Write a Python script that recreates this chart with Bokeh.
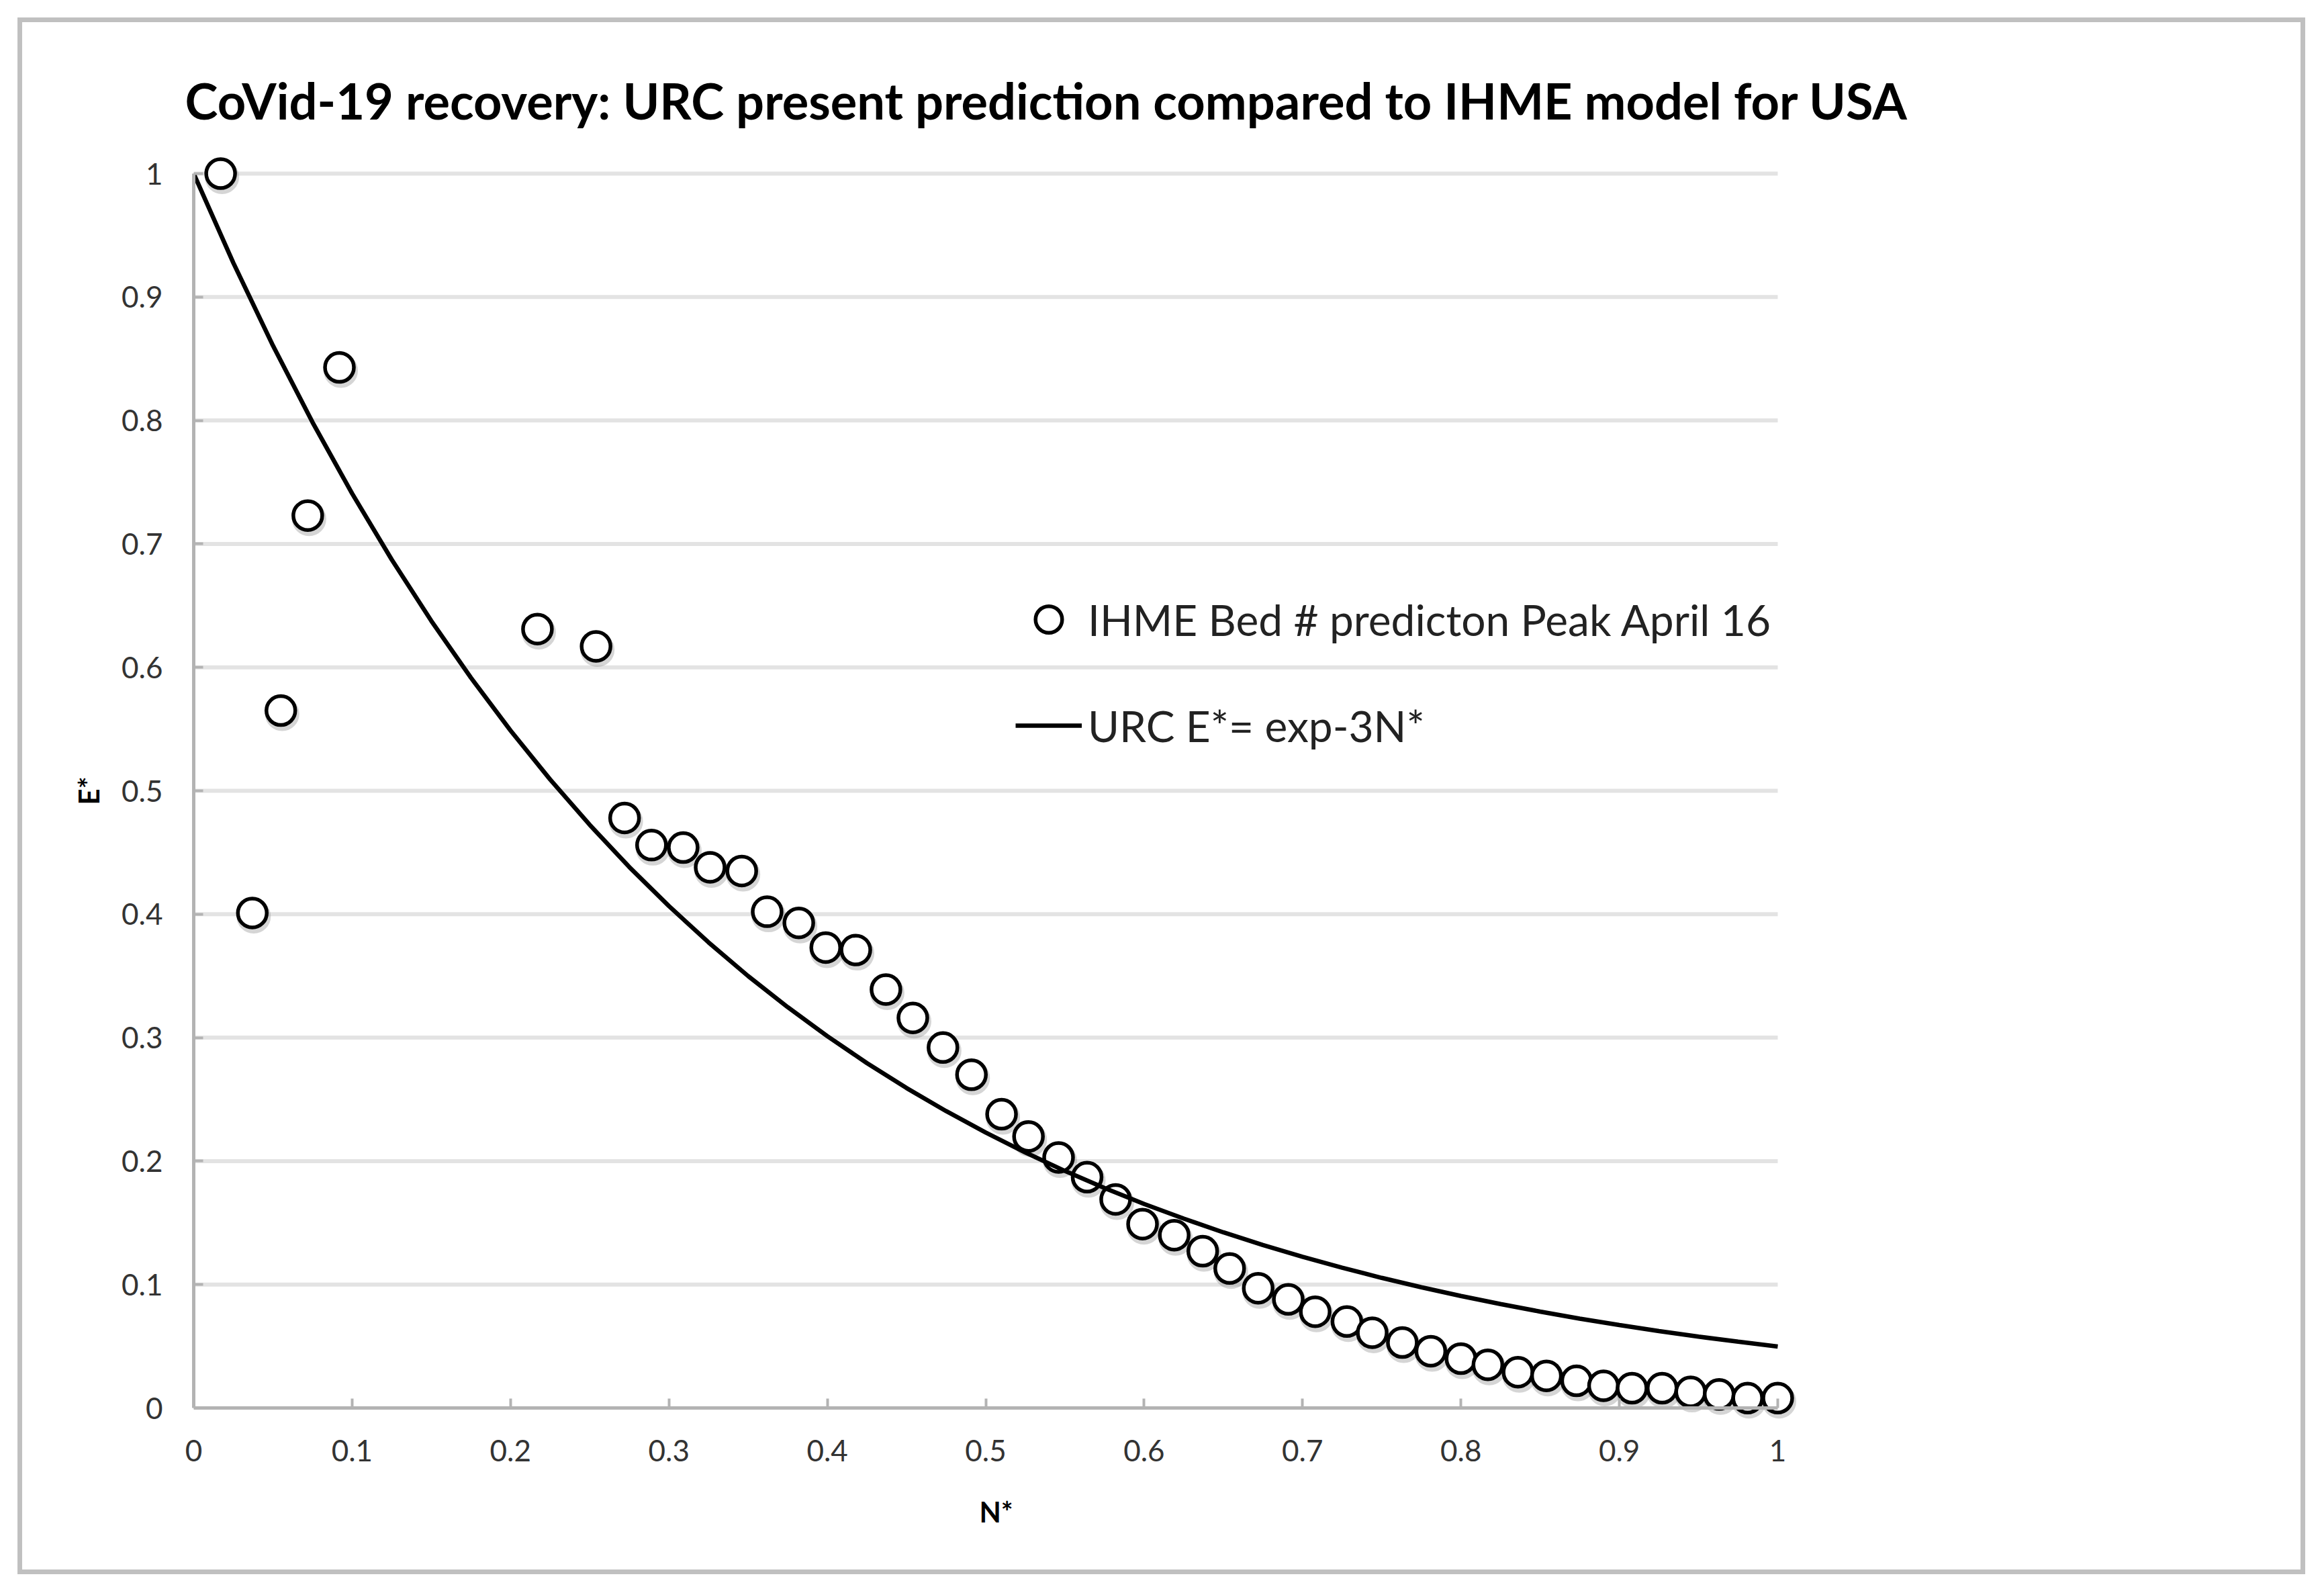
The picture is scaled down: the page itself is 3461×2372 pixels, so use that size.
from bokeh.plotting import figure
from bokeh.models import (Range1d, Legend, LegendItem, FixedTicker, NumeralTickFormatter,
                          LinearAxis, CustomLabelingPolicy)
from bokeh.embed import file_html
from bokeh.resources import INLINE
from bokeh.transform import dodge

# ---------------- data ----------------
n_star = [0.017, 0.037, 0.055, 0.072, 0.092, 0.217, 0.254, 0.272, 0.289, 0.309,
          0.326, 0.346, 0.362, 0.382, 0.399, 0.418, 0.437, 0.454, 0.473, 0.491,
          0.510, 0.527, 0.546, 0.564, 0.582, 0.599, 0.619, 0.637, 0.654, 0.672,
          0.691, 0.708, 0.728, 0.744, 0.763, 0.781, 0.800, 0.817, 0.836, 0.854,
          0.873, 0.890, 0.908, 0.927, 0.945, 0.963, 0.981, 1.000]
e_star = [1.000, 0.401, 0.565, 0.723, 0.843, 0.631, 0.617, 0.478, 0.456, 0.454,
          0.438, 0.435, 0.402, 0.393, 0.373, 0.371, 0.339, 0.316, 0.292, 0.270,
          0.238, 0.220, 0.203, 0.187, 0.169, 0.149, 0.140, 0.127, 0.113, 0.097,
          0.088, 0.078, 0.070, 0.061, 0.053, 0.046, 0.040, 0.035, 0.029, 0.026,
          0.022, 0.018, 0.016, 0.016, 0.013, 0.011, 0.008, 0.008]

urc_n = [0.0, 0.025, 0.05, 0.075, 0.1, 0.125, 0.15, 0.175, 0.2, 0.225, 0.25,
         0.275, 0.3, 0.325, 0.35, 0.375, 0.4, 0.425, 0.45, 0.475, 0.5,
         0.525, 0.55, 0.575, 0.6, 0.625, 0.65, 0.675, 0.7, 0.725, 0.75,
         0.775, 0.8, 0.825, 0.85, 0.875, 0.9, 0.925, 0.95, 0.975, 1.0]
urc_e = [1.0000, 0.9277, 0.8607, 0.7985, 0.7408, 0.6873, 0.6376, 0.5916, 0.5488, 0.5092, 0.4724,
         0.4382, 0.4066, 0.3772, 0.3499, 0.3247, 0.3012, 0.2794, 0.2592, 0.2405, 0.2231,
         0.2070, 0.1920, 0.1782, 0.1653, 0.1534, 0.1423, 0.1320, 0.1225, 0.1136, 0.1054,
         0.0978, 0.0907, 0.0842, 0.0781, 0.0724, 0.0672, 0.0623, 0.0578, 0.0537, 0.0498]

x_ticks = [0, 0.1, 0.2, 0.3, 0.4, 0.5, 0.6, 0.7, 0.8, 0.9, 1]
y_ticks = [0, 0.1, 0.2, 0.3, 0.4, 0.5, 0.6, 0.7, 0.8, 0.9, 1]

title_text = "CoVid-19 recovery: URC present prediction compared to IHME model for USA"
x_label = "N*"
y_label = "E*"
series_points = "IHME Bed # predicton Peak April 16"
series_line = "URC E*= exp-3N*"

# ---------------- layout (pixels) ----------------
W, H = 3445, 2356
x0_px, x1_px = 288, 2647      # canvas x of N*=0 and N*=1
y0_px, y1_px = 2096, 258      # canvas y of E*=0 and E*=1
pad_x, pad_y = 31, 30         # room so edge markers are not clipped
ux = (x1_px - x0_px)
uy = (y0_px - y1_px)

FONT = "Lato"
axis_color = "#b3b3b3"

p = figure(width=W, height=H, output_backend="svg", toolbar_location=None,
           x_range=Range1d(0, 1 + pad_x / ux),
           y_range=Range1d(-pad_y / uy, 1 + pad_y / uy),
           min_border_left=x0_px, min_border_right=W - (x1_px + pad_x),
           min_border_top=y1_px - pad_y, min_border_bottom=H - (y0_px + pad_y),
           background_fill_color="white", border_fill_color=None)
p.outline_line_color = None
p.xgrid.visible = False
p.ygrid.visible = False
# grey frame around the whole picture
p.styles = {"box-shadow": "inset 7px 7px 0 19px white, inset 7px 7px 0 26px #c0c0c0",
            "background-color": "white"}

# title
p.title.text = title_text
p.title.text_font = FONT
p.title.text_font_size = "74px"
p.title.text_font_style = "bold"
p.title.text_color = "black"
p.title.align = "left"
p.title.offset = -13
p.title.standoff = 69

# horizontal gridlines, limited to the axis extent
grid_levels = y_ticks[1:]
p.segment(x0=[0] * len(grid_levels), y0=grid_levels,
          x1=[1] * len(grid_levels), y1=grid_levels,
          line_color="#e3e3e3", line_width=6)


def style_axis(ax, ticks):
    ax.ticker = FixedTicker(ticks=ticks)
    ax.formatter = NumeralTickFormatter(format="0.[0]")
    ax.bounds = (0, 1)
    ax.axis_line_color = axis_color
    ax.axis_line_width = 5
    ax.major_tick_line_color = axis_color
    ax.major_tick_line_width = 4
    ax.major_tick_in = 14
    ax.major_tick_out = 0
    ax.minor_tick_line_color = None
    ax.major_label_text_font = FONT
    ax.major_label_text_font_size = "44px"
    ax.major_label_text_color = "#333333"
    ax.axis_label_text_font = FONT
    ax.axis_label_text_font_size = "42px"
    ax.axis_label_text_font_style = "bold"
    ax.axis_label_text_color = "black"


# y axis
yax = p.yaxis[0]
style_axis(yax, y_ticks)
yax.axis_label = y_label
yax.major_label_standoff = 46
yax.axis_label_standoff = 21

# x axis: labels at the frame bottom
xlab = p.xaxis[0]
style_axis(xlab, x_ticks)
xlab.axis_line_color = None
xlab.major_tick_line_color = None
xlab.axis_label = x_label
xlab.major_label_standoff = 17
xlab.axis_label_standoff = 47

# x axis: line and ticks at E* = 0 (its labels come from the axis above)
xline = LinearAxis()
style_axis(xline, x_ticks)
xline.fixed_location = 0
xline.major_label_standoff = 0
xline.major_label_policy = CustomLabelingPolicy(
    code="const a = [...indices]; for (const i of a) indices.unset(i); return indices")
p.add_layout(xline, "below")

# marker shadows
p.scatter(x=dodge("x", 2 / ux), y=dodge("y", -5 / uy), source=dict(x=n_star, y=e_star),
          size=44, marker="circle", fill_color=None,
          line_color="#888888", line_alpha=0.35, line_width=7)

# points
pts = p.scatter(x=n_star, y=e_star, size=43, marker="circle",
                fill_color="white", line_color="black", line_width=5.5)

# curve
ln = p.line(x=urc_n, y=urc_e, line_color="black", line_width=6.5)

legend = Legend(items=[LegendItem(label=series_points, renderers=[pts]),
                       LegendItem(label=series_line, renderers=[ln])],
                location=(1224, 996), orientation="vertical",
                glyph_width=99, glyph_height=100, spacing=58,
                label_standoff=9, label_text_font=FONT, label_text_font_size="64px",
                label_text_color="#222222", padding=0, margin=0,
                border_line_color=None, background_fill_alpha=0)
p.add_layout(legend, "center")

open("out.html", "w").write(file_html(p, INLINE))
